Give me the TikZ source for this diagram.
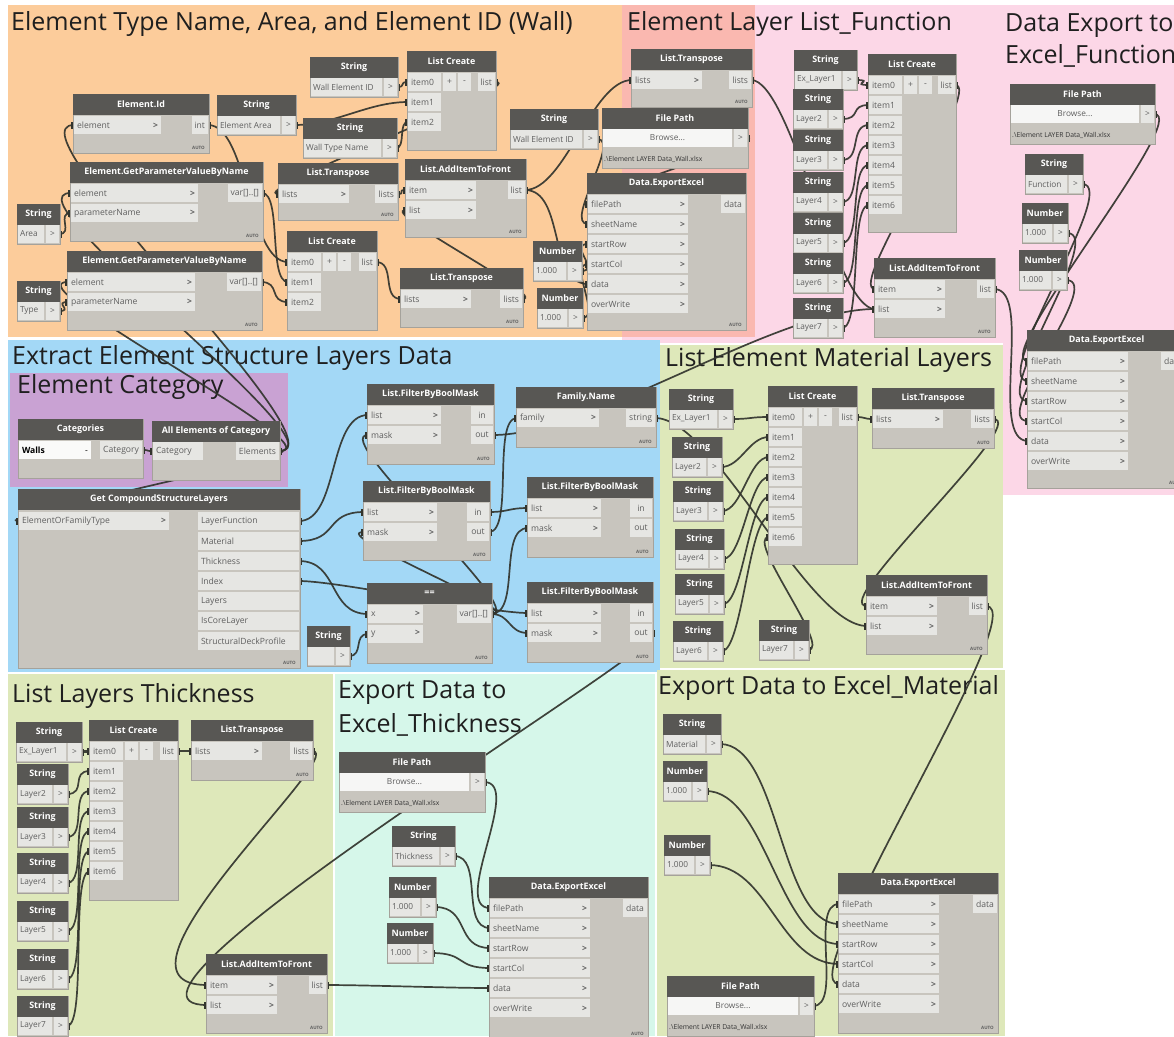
\documentclass[tikz,border=0pt]{standalone}
\usepackage{fontspec}
\setmainfont{Open Sans}
\pgfdeclarelayer{grp}
\pgfdeclarelayer{wir}
\pgfsetlayers{grp,wir,main}

% group colours
\definecolor{gOrange}{RGB}{252,204,155}
\definecolor{gSalmon}{RGB}{250,184,176}
\definecolor{gPink}{RGB}{252,215,231}
\definecolor{gBlue}{RGB}{163,216,246}
\definecolor{gPurple}{RGB}{201,162,211}
\definecolor{gGreen}{RGB}{222,232,186}
\definecolor{gMint}{RGB}{214,247,234}
% node colours
\definecolor{nHead}{RGB}{88,87,84}
\definecolor{nBody}{RGB}{200,197,190}
\definecolor{nEdge}{RGB}{165,162,155}
\definecolor{nPort}{RGB}{230,230,227}
\definecolor{nText}{RGB}{95,95,95}
\definecolor{wireC}{RGB}{50,52,45}

\newcommand\DPfont{\fontsize{8.6}{10}\selectfont}
\newcommand\DVfont{\fontsize{8.3}{10}\selectfont}
\newcommand\DHfont{\fontsize{8.9}{10}\selectfont\bfseries}
\newcommand\DGfont{\fontsize{25}{29}\selectfont}
\newcommand\DAfont{\fontsize{4.5}{5}\selectfont\bfseries}
\newcommand\DChev{{\bfseries >}}

\tikzset{
  dbody/.style={fill=nBody, draw=nEdge, line width=0.6pt, inner sep=0pt, outer sep=0pt},
  dhead/.style={fill=nHead, text=white, font=\DHfont, inner sep=0pt, outer sep=0pt, minimum height=21pt},
  dport/.style={fill=nPort, text=nText, font=\DPfont, inner xsep=3pt, inner ysep=0pt, outer sep=0pt, minimum height=18pt},
  dval/.style={dport, font=\DVfont, inner xsep=2pt},
  dwire/.style={draw=wireC, line width=1.7pt, opacity=0.92},
  dtab/.style={fill=wireC},
  gtitle/.style={font=\DGfont, text=black!88, anchor=base west, inner sep=0pt},
  autotag/.style={font=\DAfont, text=nText, anchor=south east, inner sep=0pt},
  fname/.style={font=\fontsize{6.8}{8}\selectfont, text=black!80, anchor=west, inner sep=1pt}
}

% generic node: name, x, y, width, height, title
\newcommand\DNode[6]{%
  \node[dbody, anchor=north west, minimum width=#4pt, minimum height=#5pt] (#1) at (#2,#3) {};
  \node[dhead, anchor=north west, minimum width=#4pt] (#1-t) at (#2,#3) {#6};}
% input port with chevron: name, x, y, width, label
\newcommand\DIn[5]{\node[dport, anchor=west] (#1) at (#2,#3) {\makebox[\dimexpr#4pt-6pt\relax][l]{#5\hfill\DChev}};}
% input port without chevron
\newcommand\DInP[5]{\node[dport, anchor=west] (#1) at (#2,#3) {\makebox[\dimexpr#4pt-6pt\relax][l]{#5}};}
% output port: [options] name, right x, y, label
\newcommand\DOut[5][]{\node[dport, anchor=east, #1] (#2) at (#3,#4) {#5};}
% left aligned output port of fixed width
\newcommand\DOutL[5]{\node[dport, anchor=east] (#1) at (#2,#3) {\makebox[\dimexpr#4pt-6pt\relax][l]{#5}};}
% lacing tag
\newcommand\DAuto[3]{\node[autotag] (#1) at (#2-4,#3-3) {AUTO};}
% string / number input nodes
\newcommand\DStr[6]{%
  \DNode{#1}{#2}{#3}{#4}{40}{#5}
  \node[dval, anchor=west] (#1-v) at (#2+1,#3+30) {\makebox[\dimexpr#4pt-21pt\relax][l]{#6}};
  \node[dval, anchor=east, minimum width=13pt, inner xsep=0pt] (#1-o) at (#2+#4-1,#3+30) {>};}
\newcommand\DNum[4]{\DStr{#1}{#2}{#3}{#4}{Number}{1.000}}
% file path node
\newcommand\DFile[4]{%
  \DNode{#1}{#2}{#3}{#4}{60}{File Path}
  \node[dval, anchor=west, fill=white!65!nPort] (#1-b) at (#2+1,#3+30) {\makebox[\dimexpr#4pt-21pt\relax][c]{Browse...}};
  \node[dval, anchor=east, minimum width=13pt, inner xsep=0pt] (#1-o) at (#2+#4-1,#3+30) {>};
  \node[fname] (#1-f) at (#2+1,#3+51) {.\textbackslash Element LAYER Data\_Wall.xlsx};}
% list create: name, x, y, width, height, last item index
\newcommand\DLC[6]{%
  \DNode{#1}{#2}{#3}{#4}{#5}{List Create}
  \foreach \k in {0,...,#6}{\DInP{#1-i\k}{#2+1}{#3+31+20*\k}{33}{item\k}}
  \node[dport, anchor=west, minimum width=13pt, inner xsep=0pt] (#1-plus) at (#2+36,#3+31) {+};
  \node[dport, anchor=west, minimum width=13pt, inner xsep=0pt] (#1-minus) at (#2+51,#3+31) {-};
  \DOut{#1-out}{#2+#4-1}{#3+31}{list}}
% list transpose
\newcommand\DTr[5]{%
  \DNode{#1}{#2}{#3}{#4}{#5}{List.Transpose}
  \DIn{#1-in}{#2+1}{#3+31}{70}{lists}
  \DOut{#1-out}{#2+#4-1}{#3+31}{lists}
  \DAuto{#1-a}{#2+#4}{#3+#5}}
% add item to front
\newcommand\DAI[5]{%
  \DNode{#1}{#2}{#3}{#4}{#5}{List.AddItemToFront}
  \DIn{#1-it}{#2+1}{#3+31}{70}{item}
  \DIn{#1-ls}{#2+1}{#3+51}{70}{list}
  \DOut{#1-out}{#2+#4-1}{#3+31}{list}
  \DAuto{#1-a}{#2+#4}{#3+#5}}
% filter by bool mask
\newcommand\DFB[5]{%
  \DNode{#1}{#2}{#3}{#4}{#5}{List.FilterByBoolMask}
  \DIn{#1-ls}{#2+1}{#3+31}{73}{list}
  \DIn{#1-mk}{#2+1}{#3+51}{73}{mask}
  \DOut[minimum width=22pt]{#1-in}{#2+#4-1}{#3+31}{in}
  \DOut[minimum width=22pt]{#1-out}{#2+#4-1}{#3+51}{out}
  \DAuto{#1-a}{#2+#4}{#3+#5}}
% export to excel
\newcommand\DExcel[5]{%
  \DNode{#1}{#2}{#3}{#4}{#5}{Data.ExportExcel}
  \DIn{#1-fp}{#2+1}{#3+31}{100}{filePath}
  \DIn{#1-sn}{#2+1}{#3+51}{100}{sheetName}
  \DIn{#1-sr}{#2+1}{#3+71}{100}{startRow}
  \DIn{#1-sc}{#2+1}{#3+91}{100}{startCol}
  \DIn{#1-da}{#2+1}{#3+111}{100}{data}
  \DIn{#1-ow}{#2+1}{#3+131}{100}{overWrite}
  \DOut{#1-out}{#2+#4-1}{#3+31}{data}
  \DAuto{#1-a}{#2+#4}{#3+#5}}
% get parameter value by name
\newcommand\DGP[5]{%
  \DNode{#1}{#2}{#3}{#4}{79}{Element.GetParameterValueByName}
  \DIn{#1-el}{#2+1}{#3+31}{#5}{element}
  \DIn{#1-pn}{#2+1}{#3+51}{#5}{parameterName}
  \DOut{#1-out}{#2+#4-1}{#3+31}{var[]..[]}
  \DAuto{#1-a}{#2+#4}{#3+79}}
% wires, with the small connection tabs at both ports
\newcommand\DW[3][40]{%
  \draw[dwire] (#2.east) .. controls +(#1,0) and +(-#1,0) .. (#3.west);
  \fill[dtab] (#2.east) ++(0,-3.5) rectangle ++(3,7);
  \fill[dtab] (#3.west) ++(0,-3.5) rectangle ++(-3,7);}
\newcommand\DWB[4]{%
  \draw[dwire] (#3.east) .. controls +(#1,0) and +(-#2,0) .. (#4.west);
  \fill[dtab] (#3.east) ++(0,-3.5) rectangle ++(3,7);
  \fill[dtab] (#4.west) ++(0,-3.5) rectangle ++(-3,7);}

\begin{document}
\begin{tikzpicture}[x=1pt, y=-1pt]
\useasboundingbox (0,0) rectangle (1174,1036);

% ---------------- groups ----------------
\begin{pgfonlayer}{grp}
  \fill[white] (0,0) rectangle (1174,1036);
  \fill[gPink] (622,5) rectangle (1003,343);
  \fill[gOrange] (8,5) rectangle (622,337);
  \fill[gSalmon] (622,5) rectangle (755,337);
  \fill[gPink] (1003,5) rectangle (1180,495);
  \fill[gBlue] (8,340) rectangle (660,672);
  \fill[gPurple] (10,373) rectangle (288,487);
  \fill[gGreen] (660,345) rectangle (1003,668);
  \fill[gGreen] (8,674) rectangle (333,1036);
  \fill[gMint] (335,674) rectangle (655,1036);
  \fill[gGreen] (657,670) rectangle (1005,1036);
  \node[gtitle] (ttA) at (11,30) {Element Type Name, Area, and Element ID (Wall)};
  \node[gtitle] (ttB) at (627,30) {Element Layer List\_Function};
  \node[gtitle] (ttC1) at (1005,31) {Data Export to};
  \node[gtitle] (ttC2) at (1005,63) {Excel\_Function};
  \node[gtitle] (ttD) at (12,364) {Extract Element Structure Layers Data};
  \node[gtitle] (ttE) at (17,393) {Element Category};
  \node[gtitle] (ttF) at (665,366) {List Element Material Layers};
  \node[gtitle] (ttG) at (12,702) {List Layers Thickness};
  \node[gtitle] (ttH1) at (338,698) {Export Data to};
  \node[gtitle] (ttH2) at (338,732) {Excel\_Thickness};
  \node[gtitle] (ttI) at (658,694) {Export Data to Excel\_Material};
\end{pgfonlayer}

% ---------------- element type name, area and id ----------------
\DStr{sWid}{310}{57}{88}{String}{Wall Element ID}
\DLC{lcA}{407}{51}{89}{99}{2}
\DNode{eid}{73}{94}{136}{59}{Element.Id}
\DIn{eid-el}{74}{125}{87}{element}
\DOut{eid-out}{208}{125}{int}
\DAuto{eid-a}{209}{153}
\DStr{sEa}{217}{95}{79}{String}{Element Area}
\DStr{sWtn}{303}{118}{94}{String}{Wall Type Name}
\DGP{gpA}{70}{162}{193}{127}
\DTr{ltA}{278}{163}{120}{57}
\DStr{sAr}{17}{204}{43}{String}{Area}
\DLC{lcB}{287}{231}{90}{99}{2}
\DGP{gpB}{67}{251}{195}{127}
\DStr{sTy}{17}{281}{43}{String}{Type}
\DAI{aiA}{405}{159}{121}{78}
\DTr{ltB}{400}{268}{123}{59}
\DStr{sWid2}{510}{109}{88}{String}{Wall Element ID}
\DExcel{deA}{587}{173}{159}{157}
\DFile{fpA}{602}{108}{146}
\DNum{nA}{533}{241}{49}
\DNum{nB}{537}{288}{46}
\DTr{ltC}{631}{49}{121}{58}

% ---------------- layer list, function ----------------
\DStr{sP1}{794}{50}{63}{String}{Ex\_Layer1}
\DStr{sP2}{793}{89}{50}{String}{Layer2}
\DStr{sP3}{793}{130}{50}{String}{Layer3}
\DStr{sP4}{793}{172}{50}{String}{Layer4}
\DStr{sP5}{793}{213}{50}{String}{Layer5}
\DStr{sP6}{793}{253}{50}{String}{Layer6}
\DStr{sP7}{793}{298}{50}{String}{Layer7}
\DLC{lcP}{868}{54}{88}{178}{6}
\DAI{aiP}{874}{258}{121}{79}

% ---------------- export, function ----------------
\DFile{fpR}{1010}{84}{145}
\DStr{sFn}{1025}{154}{58}{String}{Function}
\DNum{nC}{1022}{203}{46}
\DNum{nD}{1019}{250}{48}
\DExcel{deR}{1027}{330}{159}{158}

% ---------------- element category ----------------
\DNode{cat}{18}{419}{125}{59}{Categories}
\node[dport, anchor=west, fill=white!80!nPort, text=black] (cat-dd) at (19,450) {\makebox[66pt][l]{\bfseries Walls\hfill{\normalfont -}}};
\DOut{cat-out}{142}{450}{Category}
\DNode{alle}{152}{421}{128}{59}{All Elements of Category}
\DInP{alle-in}{153}{451}{50}{Category}
\DOut{alle-out}{279}{451}{Elements}

% ---------------- structure layers ----------------
\DNode{gcs}{18}{489}{282}{179}{Get CompoundStructureLayers}
\DIn{gcs-in}{19}{521}{150}{ElementOrFamilyType}
\DOutL{gcs-lf}{299}{521}{101}{LayerFunction}
\DOutL{gcs-ma}{299}{541}{101}{Material}
\DOutL{gcs-th}{299}{561}{101}{Thickness}
\DOutL{gcs-ix}{299}{581}{101}{Index}
\DOutL{gcs-ly}{299}{601}{101}{Layers}
\DOutL{gcs-ic}{299}{621}{101}{IsCoreLayer}
\DOutL{gcs-sd}{299}{641}{101}{StructuralDeckProfile}
\DAuto{gcs-a}{300}{668}
\DStr{sEm}{307}{626}{43}{String}{}
\DFB{fbA}{367}{384}{127}{80}
\DFB{fbB}{363}{481}{127}{79}
\DNode{eq}{367}{583}{125}{80}{==}
\DIn{eq-x}{368}{614}{55}{x}
\DIn{eq-y}{368}{634}{55}{y}
\DOut{eq-out}{491}{614}{var[]..[]}
\DAuto{eq-a}{492}{663}
\DNode{fam}{516}{387}{140}{60}{Family.Name}
\DIn{fam-in}{517}{418}{82}{family}
\DOut{fam-out}{655}{418}{string}
\DAuto{fam-a}{656}{447}
\DFB{fbC}{527}{477}{126}{80}
\DFB{fbD}{527}{582}{126}{80}

% ---------------- material layers ----------------
\DStr{gL1}{669}{389}{64}{String}{Ex\_Layer1}
\DStr{gL2}{672}{437}{50}{String}{Layer2}
\DStr{gL3}{673}{481}{50}{String}{Layer3}
\DStr{gL4}{675}{529}{49}{String}{Layer4}
\DStr{gL5}{675}{574}{49}{String}{Layer5}
\DStr{gL6}{673}{621}{50}{String}{Layer6}
\DStr{gL7}{759}{620}{50}{String}{Layer7}
\DLC{lcG}{768}{386}{89}{178}{6}
\DTr{ltG}{872}{388}{122}{60}
\DAI{aiG}{866}{575}{121}{79}

% ---------------- layers thickness ----------------
\DStr{tL1}{16}{722}{66}{String}{Ex\_Layer1}
\DStr{tL2}{17}{764}{51}{String}{Layer2}
\DStr{tL3}{17}{807}{51}{String}{Layer3}
\DStr{tL4}{17}{853}{51}{String}{Layer4}
\DStr{tL5}{17}{901}{51}{String}{Layer5}
\DStr{tL6}{17}{949}{51}{String}{Layer6}
\DStr{tL7}{17}{996}{51}{String}{Layer7}
\DLC{lcT}{89}{720}{89}{180}{6}
\DTr{ltT}{191}{720}{122}{60}
\DAI{aiT}{206}{954}{121}{79}

% ---------------- export, thickness ----------------
\DFile{fpT}{339}{752}{146}
\DStr{sTk}{392}{826}{63}{String}{Thickness}
\DNum{nE}{389}{877}{47}
\DNum{nF}{387}{923}{46}
\DExcel{deT}{489}{877}{159}{162}

% ---------------- export, material ----------------
\DStr{sMt}{663}{714}{58}{String}{Material}
\DNum{nG}{663}{761}{44}
\DNum{nH}{664}{835}{46}
\DExcel{deM}{838}{873}{160}{160}
\DFile{fpM}{667}{976}{147}

% ---------------- connectors ----------------
\begin{pgfonlayer}{wir}
  % element data
  \DW[10]{sWid-o}{lcA-i0}
  \DW[40]{sEa-o}{lcA-i1}
  \DW[10]{sWtn-o}{lcA-i2}
  \DW[40]{eid-out}{lcB-i0}
  \DW[20]{gpA-out}{lcB-i1}
  \DW[20]{gpB-out}{lcB-i2}
  \DW[15]{sAr-o}{gpA-pn}
  \DW[15]{sTy-o}{gpB-pn}
  \DW[40]{lcA-out}{ltA-in}
  \DW[10]{ltA-out}{aiA-it}
  \DW[20]{lcB-out}{ltB-in}
  \DW[30]{ltB-out}{aiA-ls}
  \DW[40]{aiA-out}{deA-da}
  \DW[40]{aiA-out}{ltC-in}
  \DW[25]{fpA-o}{deA-fp}
  \DW[25]{sWid2-o}{deA-sn}
  \DW[20]{nA-o}{deA-sr}
  \DW[20]{nB-o}{deA-sc}
  % category and elements
  \DW[10]{cat-out}{alle-in}
  \DW[70]{alle-out}{eid-el}
  \DW[70]{alle-out}{gpA-el}
  \DW[60]{alle-out}{gpB-el}
  \DW[40]{alle-out}{gcs-in}
  % structure layers
  \DW[40]{gcs-lf}{fbA-ls}
  \DW[40]{gcs-ma}{fbB-ls}
  \DW[40]{gcs-th}{eq-x}
  \DW[40]{gcs-ix}{fbD-ls}
  \DW[15]{sEm-o}{eq-y}
  \DW[40]{eq-out}{fbA-mk}
  \DW[40]{eq-out}{fbB-mk}
  \DW[30]{eq-out}{fbC-mk}
  \DW[20]{eq-out}{fbD-mk}
  \DW[20]{fbB-in}{fbC-ls}
  \DW[25]{fbB-out}{fam-in}
  \DW[100]{fbA-out}{aiP-ls}
  \DW[60]{fam-out}{aiG-ls}
  \DWB{40}{140}{fbD-out}{aiT-ls}
  % function layer list
  \DW[20]{sP1-o}{lcP-i0}
  \DW[20]{sP2-o}{lcP-i1}
  \DW[20]{sP3-o}{lcP-i2}
  \DW[20]{sP4-o}{lcP-i3}
  \DW[20]{sP5-o}{lcP-i4}
  \DW[20]{sP6-o}{lcP-i5}
  \DW[20]{sP7-o}{lcP-i6}
  \DW[40]{ltC-out}{aiP-ls}
  \DW[30]{lcP-out}{aiP-it}
  \DW[40]{aiP-out}{deR-da}
  \DW[40]{fpR-o}{deR-fp}
  \DW[40]{sFn-o}{deR-sn}
  \DW[40]{nC-o}{deR-sr}
  \DW[40]{nD-o}{deR-sc}
  % material layer list
  \DW[20]{gL1-o}{lcG-i0}
  \DW[20]{gL2-o}{lcG-i1}
  \DW[20]{gL3-o}{lcG-i2}
  \DW[20]{gL4-o}{lcG-i3}
  \DW[20]{gL5-o}{lcG-i4}
  \DW[20]{gL6-o}{lcG-i5}
  \DW[25]{gL7-o}{lcG-i6}
  \DW[10]{lcG-out}{ltG-in}
  \DW[40]{ltG-out}{aiG-it}
  \DW[50]{aiG-out}{deM-da}
  \DW[60]{sMt-o}{deM-sn}
  \DW[60]{nG-o}{deM-sr}
  \DW[60]{nH-o}{deM-sc}
  \DW[30]{fpM-o}{deM-fp}
  % thickness layer list
  \DW[20]{tL1-o}{lcT-i0}
  \DW[20]{tL2-o}{lcT-i1}
  \DW[20]{tL3-o}{lcT-i2}
  \DW[20]{tL4-o}{lcT-i3}
  \DW[20]{tL5-o}{lcT-i4}
  \DW[20]{tL6-o}{lcT-i5}
  \DW[20]{tL7-o}{lcT-i6}
  \DW[10]{lcT-out}{ltT-in}
  \DWB{40}{120}{ltT-out}{aiT-it}
  \DW[40]{aiT-out}{deT-da}
  \DW[40]{fpT-o}{deT-fp}
  \DW[30]{sTk-o}{deT-sn}
  \DW[35]{nE-o}{deT-sr}
  \DW[35]{nF-o}{deT-sc}
\end{pgfonlayer}
\end{tikzpicture}
\end{document}
